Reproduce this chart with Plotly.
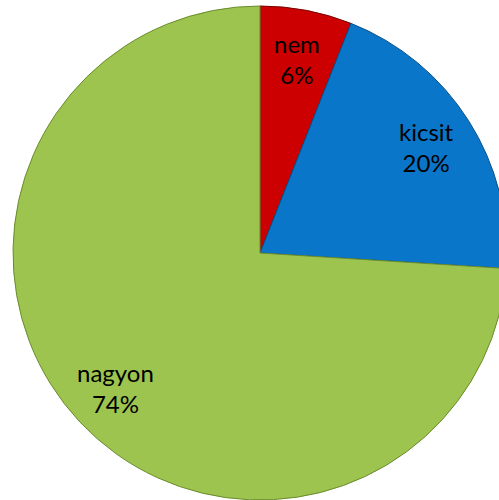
import math
import plotly.graph_objects as go

labels = ["nem", "kicsit", "nagyon"]
values = [6, 20, 74]
colors = ["#CC0000", "#0A76CA", "#9DC44E"]
line_colors = ["#7A0000", "#064F88", "#6A8B2E"]

W, H = 520, 500
dom_y = [0.0, 0.988]
label_frac = 0.8  # label distance from centre, as a share of the radius

fig = go.Figure(go.Pie(
    labels=labels,
    values=values,
    sort=False,
    direction="clockwise",
    rotation=0,
    marker=dict(colors=colors, line=dict(color=line_colors, width=1)),
    textinfo="none",
    showlegend=False,
    hoverinfo="label+percent",
    domain=dict(x=[0, 1], y=dom_y),
))

# data labels on each slice bisector (like the original's)
total = sum(values)
radius_px = (dom_y[1] - dom_y[0]) * H / 2
cx, cy = 0.5, (dom_y[0] + dom_y[1]) / 2
cum = 0
for lab, v in zip(labels, values):
    mid = 2 * math.pi * (cum + v / 2) / total
    cum += v
    x = cx + label_frac * radius_px * math.sin(mid) / W
    y = cy + label_frac * radius_px * math.cos(mid) / H
    fig.add_annotation(
        x=x, y=y, xref="paper", yref="paper",
        text=f"{lab}<br>{round(100 * v / total)}%",
        showarrow=False, align="center",
        xanchor="center", yanchor="middle",
        font=dict(family="Lato, Open Sans, sans-serif", size=24, color="black"),
    )

fig.update_layout(
    width=W,
    height=H,
    margin=dict(l=0, r=0, t=0, b=0),
    paper_bgcolor="white",
    plot_bgcolor="white",
)

fig.write_html(
    "out.html",
    config={"displayModeBar": False},
    post_script=(
        "document.body.style.margin='0';"
        "document.body.style.overflow='hidden';"
        "document.documentElement.style.overflow='hidden';"
    ),
)
